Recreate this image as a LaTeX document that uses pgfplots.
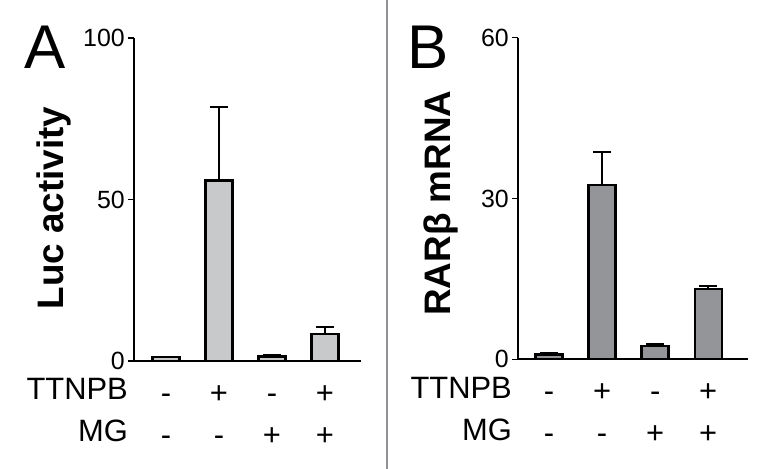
\documentclass[border=0pt]{standalone}
\usepackage{pgfplots}
\pgfplotsset{compat=1.18}
\usepackage{fontspec}
\setmainfont{Liberation Sans}

\definecolor{barA}{HTML}{C8C9CB}
\definecolor{barB}{HTML}{939598}
\definecolor{baseline}{HTML}{9A9A9C}
\definecolor{divider}{HTML}{909095}

\pgfplotsset{
  panel/.style={
    scale only axis,
    anchor=south west,
    axis lines*=left,
    x axis line style={baseline, line width=1.8bp, -},
    y axis line style={black, line width=1.3bp, -},
    ymin=0,
    xtick={1,2,3,4},
    x tick style={draw=none},
    y tick style={black, line width=1.3bp},
    tick align=outside,
    major tick length=6bp,
    ybar, bar width=27bp, bar shift=0pt,
    /pgf/number format/assume math mode=true,
    yticklabel style={font=\fontsize{25}{26}\selectfont, inner sep=0pt, xshift=-3bp},
    xticklabel style={font=\fontsize{31}{42}\selectfont, align=center, anchor=north, inner sep=0pt, yshift=-7bp},
    xticklabels={{\strut-\\\strut-},{\strut+\\\strut-},{\strut-\\\strut+},{\strut+\\\strut+}},
    ylabel style={font=\fontsize{37}{40}\selectfont\bfseries, anchor=center, inner sep=0pt},
    clip=false,
  },
  errs/.style={error bars/.cd, y dir=plus, y explicit,
    error bar style={black, line width=2bp},
    error mark options={black, line width=2bp, mark size=9bp, rotate=90}},
}

\begin{document}
\begin{tikzpicture}[x=1bp, y=1bp]
\useasboundingbox (0,0) rectangle (775,469);
\draw[divider, line width=2bp] (386.7,0) -- (386.7,469);

% Panel A
\begin{axis}[panel,
  at={(134bp,108bp)}, width=227bp, height=323bp,
  xmin=0.396, xmax=4.68, ymax=100, ytick={0,50,100},
  ylabel={Luc activity},
  ylabel style={at={([xshift=-80bp]rel axis cs:0,0.474)}},
]
\addplot+[fill=barA, draw=black, line width=2.4bp, errs]
  table[y error=e] {
  x y e
  1 1.2 0
  2 55.9 22.8
  3 1.4 0.6
  4 8.3 2.3
  };
\node[font=\fontsize{31}{31}\selectfont, anchor=base east, inner sep=0pt]
  at ([xshift=-6bp, yshift=-39bp]rel axis cs:0,0) {TTNPB};
\node[font=\fontsize{31}{31}\selectfont, anchor=base east, inner sep=0pt]
  at ([xshift=-6bp, yshift=-81bp]rel axis cs:0,0) {MG};
\end{axis}

% Panel B
\begin{axis}[panel,
  at={(518bp,109.7bp)}, width=230bp, height=321.6bp,
  xmin=0.415, xmax=4.75, ymax=60, ytick={0,30,60},
  ylabel={RARβ mRNA},
  ylabel style={at={([xshift=-77.5bp]rel axis cs:0,0.486)}},
]
\addplot+[fill=barB, draw=black, line width=2.4bp, errs]
  table[y error=e] {
  x y e
  1 0.93 0.3
  2 32.5 6.2
  3 2.5 0.35
  4 13.06 0.65
  };
\node[font=\fontsize{31}{31}\selectfont, anchor=base east, inner sep=0pt]
  at ([xshift=-6bp, yshift=-39bp]rel axis cs:0,0) {TTNPB};
\node[font=\fontsize{31}{31}\selectfont, anchor=base east, inner sep=0pt]
  at ([xshift=-6bp, yshift=-81bp]rel axis cs:0,0) {MG};
\end{axis}

\node[font=\fontsize{62}{62}\selectfont, inner sep=0pt] at (45,422) {A};
\node[font=\fontsize{62}{62}\selectfont, inner sep=0pt] at (428,422) {B};
\end{tikzpicture}
\end{document}
